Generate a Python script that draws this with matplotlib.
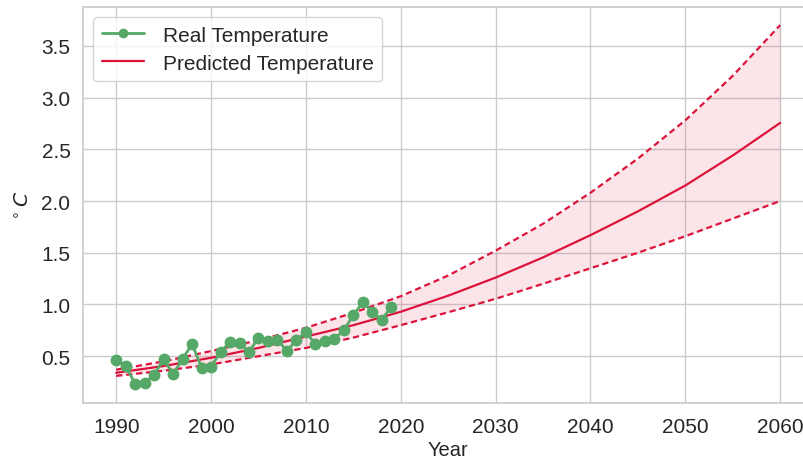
import matplotlib
matplotlib.use("Agg")
import matplotlib.pyplot as plt
import seaborn as sns

years = list(range(1990, 2020))
real_temp = [0.46, 0.41, 0.23, 0.24, 0.32, 0.47, 0.33, 0.47, 0.62, 0.39,
             0.40, 0.54, 0.64, 0.63, 0.54, 0.68, 0.65, 0.66, 0.55, 0.66,
             0.73, 0.62, 0.65, 0.67, 0.75, 0.90, 1.02, 0.93, 0.85, 0.98]

pred_years = list(range(1990, 2061, 5))
pred_mean = [0.34, 0.405, 0.485, 0.58, 0.69, 0.80, 0.93, 1.085, 1.26, 1.455,
             1.67, 1.90, 2.15, 2.44, 2.755]
pred_upper = [0.37, 0.45, 0.55, 0.655, 0.775, 0.92, 1.08, 1.28, 1.52, 1.78,
              2.08, 2.41, 2.78, 3.21, 3.70]
pred_lower = [0.31, 0.36, 0.42, 0.50, 0.58, 0.68, 0.80, 0.925, 1.055, 1.20,
              1.35, 1.50, 1.66, 1.83, 2.0]

sns.set_theme(style="whitegrid")
plt.rcParams['font.family'] = ['Liberation Sans', 'DejaVu Sans']
plt.rcParams['text.color'] = '.15'

fig = plt.figure(figsize=(8.04, 4.6), dpi=100)
ax = fig.add_axes([83 / 804, 1 - 404.3 / 460, (813.4 - 83) / 804, (404.3 - 8) / 460])

green = '#55a868'
red = 'crimson'
dash = (0, (2.8, 1.7))

ax.plot(years, real_temp, color=green, marker='o', markersize=7.5, linewidth=2,
        label='Real Temperature', zorder=3)
ax.plot(pred_years, pred_mean, color=red, linewidth=1.6, label='Predicted Temperature', zorder=2)
ax.plot(pred_years, pred_upper, color=red, linewidth=1.6, linestyle=dash, zorder=2)
ax.plot(pred_years, pred_lower, color=red, linewidth=1.6, linestyle=dash, zorder=2)
ax.fill_between(pred_years, pred_lower, pred_upper, color=red, alpha=0.11, linewidth=0, zorder=1)

ax.set_xlim(1986.5, 2063.5)
ax.set_ylim(0.045, 3.875)
ax.set_xticks([1990, 2000, 2010, 2020, 2030, 2040, 2050, 2060])
ax.set_yticks([0.5, 1.0, 1.5, 2.0, 2.5, 3.0, 3.5])
ax.tick_params(axis='x', labelsize=15, colors='.15', length=0, pad=10)
ax.tick_params(axis='y', labelsize=15, colors='.15', length=0, pad=9)
ax.set_xlabel('Year', fontsize=14.5, color='.15', labelpad=2.5)
ax.set_ylabel(r'$^\circ C$', fontsize=14.5, color='.15', labelpad=6)

leg = ax.legend(loc='upper left', fontsize=15, frameon=True, borderpad=0.4,
                handlelength=2.05, handletextpad=0.87, labelspacing=0.42,
                markerscale=0.8)
leg.get_frame().set_edgecolor('.8')

fig.savefig('out.png', dpi=100)
